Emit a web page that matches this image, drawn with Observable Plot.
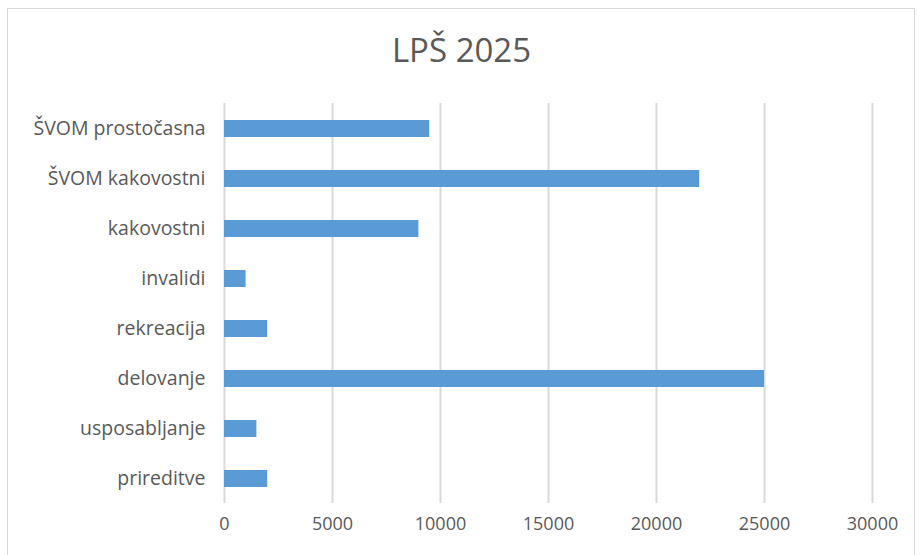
<!DOCTYPE html>
<html>
<head>
<meta charset="utf-8">
<script src="https://cdn.jsdelivr.net/npm/d3@7"></script>
<script src="https://cdn.jsdelivr.net/npm/@observablehq/plot@0.6"></script>
<style>
  html, body { margin: 0; padding: 0; background: #fff; }
  body { width: 919px; height: 555px; position: relative; overflow: hidden; font-family: "Open Sans", sans-serif; }
  #frame { position: absolute; left: 7px; top: 8px; width: 908px; height: 560px; border: 1px solid #d9d9d9; box-sizing: border-box; }
  #title { position: absolute; left: 2px; top: 0; width: 919px; height: 100px; text-align: center; line-height: 100px; font-size: 33px; color: #595959; font-weight: 400; }
  #chart { position: absolute; left: 0; top: 100px; }
</style>
</head>
<body>
<div id="frame"></div>
<div id="title">LPŠ 2025</div>
<div id="chart"></div>
<script>
const categories = ["ŠVOM prostočasna", "ŠVOM kakovostni", "kakovostni", "invalidi", "rekreacija", "delovanje", "usposabljanje", "prireditve"];
const values = [9500, 22000, 9000, 1000, 2000, 25000, 1500, 2000];
const xTicks = [0, 5000, 10000, 15000, 20000, 25000, 30000];

const data = categories.map((c, i) => ({category: c, value: values[i]}));

const chart = Plot.plot({
  width: 919,
  height: 455,
  marginTop: 3,
  marginBottom: 52,
  marginLeft: 224,
  marginRight: 47,
  style: {fontFamily: "Open Sans, sans-serif", fontSize: "18px", color: "#595959", background: "transparent"},
  x: {domain: [0, 30000], ticks: xTicks, label: null, tickFormat: d => String(d)},
  y: {domain: categories, label: null, paddingInner: 0.66, paddingOuter: 0.33},
  marks: [
    Plot.ruleX(xTicks, {stroke: "#d9d9d9", strokeWidth: 2}),
    Plot.barX(data, {y: "category", x: "value", fill: "#5b9bd5"}),
    Plot.axisX({ticks: xTicks, tickSize: 0, tickPadding: 14, tickFormat: d => String(d), fill: "#595959", fontSize: 18}),
    Plot.axisY({tickSize: 0, tickPadding: 19, fill: "#595959", fontSize: 19.5})
  ]
});
document.getElementById("chart").appendChild(chart);
</script>
</body>
</html>
